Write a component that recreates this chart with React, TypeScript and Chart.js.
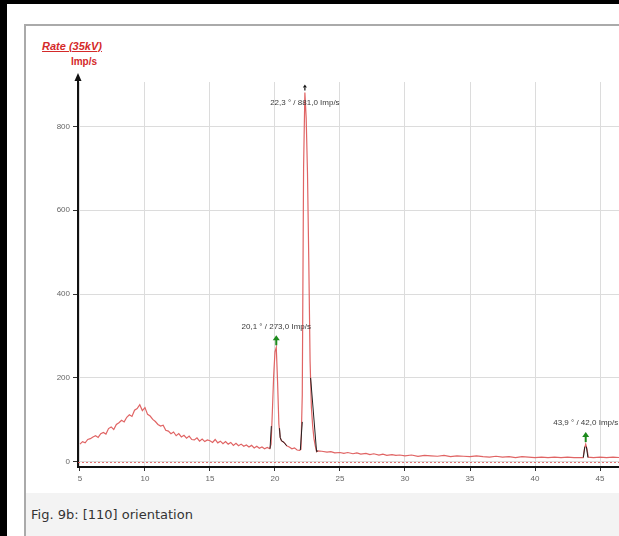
import React, { useEffect, useRef } from "react";
import { Chart, registerables } from "chart.js";

Chart.register(...registerables);

// Measured spectrum (red)
const angles = [
  5.0, 5.2, 5.4, 5.6, 5.8, 6.0, 6.2, 6.4, 6.6, 6.8, 7.0, 7.2, 7.4, 7.6, 7.8, 8.0, 8.2, 8.4, 8.6, 8.8,
  9.0, 9.2, 9.4, 9.6, 9.8, 10.0, 10.2, 10.4, 10.6, 10.8, 11.0, 11.2, 11.4, 11.6, 11.8, 12.0, 12.2, 12.4, 12.6, 12.8,
  13.0, 13.2, 13.4, 13.6, 13.8, 14.0, 14.2, 14.4, 14.6, 14.8, 15.0, 15.2, 15.4, 15.6, 15.8, 16.0, 16.2, 16.4, 16.6, 16.8,
  17.0, 17.2, 17.4, 17.6, 17.8, 18.0, 18.2, 18.4, 18.6, 18.8, 19.0, 19.2, 19.4, 19.6, 19.7, 19.8, 19.9, 20.0, 20.1, 20.2,
  20.3, 20.4, 20.5, 20.7, 20.9, 21.1, 21.3, 21.5, 21.7, 21.9, 22.0, 22.1, 22.2, 22.3, 22.4, 22.5, 22.6, 22.7, 22.8, 22.9,
  23.0, 23.1, 23.2, 23.3, 23.6, 24.0, 24.3, 24.6, 25.0, 25.3, 25.6, 26.0, 26.3, 26.6, 27.0, 27.3, 27.6, 28.0, 28.3, 28.6,
  29.0, 29.3, 29.6, 30.0, 30.5, 31.0, 31.5, 32.0, 32.5, 33.0, 33.5, 34.0, 34.5, 35.0, 35.5, 36.0, 36.5, 37.0, 37.5, 38.0,
  38.5, 39.0, 39.5, 40.0, 40.5, 41.0, 41.5, 42.0, 42.5, 43.0, 43.5, 43.7, 43.8, 43.9, 44.0, 44.1, 44.5, 45.0, 45.5, 46.0,
  46.5,
];
const rates = [
  42, 48, 45, 53, 55, 59, 62, 58, 67, 70, 66, 79, 83, 77, 89, 93, 99, 95, 106, 112,
  108, 123, 127, 136, 122, 129, 113, 109, 101, 96, 89, 85, 87, 75, 73, 67, 71, 62, 67, 59,
  63, 56, 61, 53, 52, 57, 49, 54, 48, 52, 50, 46, 53, 45, 49, 43, 48, 42, 46, 39,
  44, 38, 42, 37, 40, 35, 39, 33, 37, 32, 35, 31, 34, 31, 42, 120, 205, 262, 273, 190,
  90, 58, 50, 46, 38, 35, 31, 33, 28, 27, 30, 160, 700, 881, 820, 690, 480, 240, 130, 85,
  55, 38, 24, 26, 25, 23, 24, 21, 22, 20, 22, 19, 21, 18, 20, 17, 19, 16, 18, 15,
  17, 15, 16, 14, 16, 13, 15, 14, 13, 15, 12, 14, 13, 12, 14, 12, 11, 13, 11, 12,
  10, 12, 11, 10, 11, 10, 11, 10, 11, 10, 10, 10, 30, 42, 30, 11, 10, 11, 10, 11,
  10,
];

// Raw trace segments drawn in black near the peaks (null = gap)
const rawAngles = [19.62, 19.72, 19.73, 20.35, 20.4, 20.5, 20.7, 20.9, 20.91, 21.95, 22.1, 22.11, 22.74, 23.2, 23.3, 23.31, 43.72, 43.83, 43.84, 43.95, 44.07];
const rawRates = [31, 85, null, 80, 58, 50, 46, 38, null, 28, 95, null, 200, 24, 26, null, 10, 36, null, 36, 10];

// Peak markers
const peakAngles = [20.1, 22.3, 43.9];
const peakRates = [273, 881, 42];
const peakColors = ["#1c8a1c", "#111111", "#1c8a1c"];

const xTicks = [5, 10, 15, 20, 25, 30, 35, 40, 45];
const yTicks = [0, 200, 400, 600, 800];

const fmt = (v: number) => v.toFixed(1).replace(".", ",");

const overlayPlugin = {
  id: "overlay",
  beforeDatasetsDraw(chart: any) {
    const { ctx, chartArea, scales } = chart;
    const y0 = scales.y.getPixelForValue(0);
    ctx.save();
    ctx.strokeStyle = "rgba(220,80,80,0.8)";
    ctx.lineWidth = 1;
    ctx.setLineDash([2, 2]);
    ctx.beginPath();
    ctx.moveTo(chartArea.left, Math.round(y0) + 0.5);
    ctx.lineTo(chartArea.right, Math.round(y0) + 0.5);
    ctx.stroke();
    ctx.restore();
  },
  afterDraw(chart: any) {
    const { ctx, chartArea, scales } = chart;
    ctx.save();
    // y-axis arrow
    const ax = chartArea.left;
    ctx.strokeStyle = "#111";
    ctx.fillStyle = "#111";
    ctx.lineWidth = 2;
    ctx.beginPath();
    ctx.moveTo(ax, chartArea.top + 1);
    ctx.lineTo(ax, chartArea.top - 2);
    ctx.stroke();
    ctx.beginPath();
    ctx.moveTo(ax, chartArea.top - 9);
    ctx.lineTo(ax - 3.5, chartArea.top - 1);
    ctx.lineTo(ax + 3.5, chartArea.top - 1);
    ctx.closePath();
    ctx.fill();

    // peak markers
    ctx.font = "8px 'Liberation Sans', Arial, sans-serif";
    ctx.textAlign = "center";
    ctx.textBaseline = "middle";
    peakAngles.forEach((a, i) => {
      const px = scales.x.getPixelForValue(a);
      const py = scales.y.getPixelForValue(peakRates[i]);
      const col = peakColors[i];
      const big = peakRates[i] < 600;
      ctx.strokeStyle = col;
      ctx.fillStyle = col;
      ctx.lineWidth = big ? 2 : 1.2;
      const tip = py - (big ? 12 : 8);
      ctx.beginPath();
      ctx.moveTo(px, py - 2);
      ctx.lineTo(px, tip + 3);
      ctx.stroke();
      const hw = big ? 3.5 : 2;
      ctx.beginPath();
      ctx.moveTo(px, tip);
      ctx.lineTo(px - hw, tip + (big ? 5 : 3));
      ctx.lineTo(px + hw, tip + (big ? 5 : 3));
      ctx.closePath();
      ctx.fill();
      const ly = Math.max(py - 21, chartArea.top + 21);
      ctx.fillStyle = "#3a3a3a";
      ctx.fillText(`${fmt(a)} ° / ${fmt(peakRates[i])} Imp/s`, px, ly);
    });
    ctx.restore();
  },
};

export default function App() {
  const ref = useRef<HTMLCanvasElement>(null);

  useEffect(() => {
    if (!ref.current) return;
    const chart = new Chart(ref.current, {
      type: "line",
      data: {
        datasets: [
          {
            data: rawAngles.map((a, i) => ({ x: a, y: rawRates[i] })) as any,
            borderColor: "#202020",
            borderWidth: 1,
            pointRadius: 0,
            spanGaps: false,
            tension: 0,
            order: 0,
          },
          {
            data: angles.map((a, i) => ({ x: a, y: rates[i] })),
            borderColor: "#e06464",
            borderWidth: 1.2,
            pointRadius: 0,
            tension: 0,
            order: 1,
          },
        ],
      },
      plugins: [overlayPlugin],
      options: {
        animation: false,
        responsive: false,
        maintainAspectRatio: false,
        layout: { padding: { top: 56, right: 0, left: 0, bottom: 0 } },
        plugins: { legend: { display: false }, tooltip: { enabled: false } },
        scales: {
          x: {
            type: "linear",
            min: 4.85,
            max: 46.46,
            afterBuildTicks: (s: any) => {
              s.ticks = xTicks.map((v) => ({ value: v }));
            },
            afterFit: (s: any) => {
              s.height = 26;
            },
            grid: { color: "#dcdcdc", lineWidth: 1, tickLength: 4, tickColor: "#333" },
            border: { color: "#111", width: 2 },
            ticks: {
              color: "#666",
              font: { size: 8, family: "'Liberation Sans', Arial, sans-serif" },
              padding: 3,
              maxRotation: 0,
            },
          },
          y: {
            type: "linear",
            min: -12.6,
            max: 906,
            afterBuildTicks: (s: any) => {
              s.ticks = yTicks.map((v) => ({ value: v }));
            },
            afterFit: (s: any) => {
              s.width = 52;
            },
            grid: { color: "#dcdcdc", lineWidth: 1, tickLength: 5, tickColor: "#333" },
            border: { color: "#111", width: 2 },
            ticks: {
              color: "#666",
              font: { size: 8, family: "'Liberation Sans', Arial, sans-serif" },
              padding: 3,
            },
          },
        },
      },
    });
    return () => chart.destroy();
  }, []);

  return (
    <div
      style={{
        position: "fixed",
        left: 0,
        top: 0,
        width: 619,
        height: 536,
        background: "#fff",
        overflow: "hidden",
        fontFamily: "'DejaVu Sans', sans-serif",
      }}
    >
      <div style={{ position: "absolute", left: 0, top: 0, width: 619, height: 4, background: "#000" }} />
      <div style={{ position: "absolute", left: 0, top: 0, width: 7, height: 536, background: "#000" }} />
      <div style={{ position: "absolute", left: 24, top: 24, width: 595, height: 2, background: "#aaa" }} />
      <div style={{ position: "absolute", left: 24, top: 24, width: 2, height: 512, background: "#aaa" }} />
      <div
        style={{
          position: "absolute",
          left: 26,
          top: 40,
          width: 92,
          textAlign: "center",
          color: "#d42a2a",
          fontFamily: "'Liberation Sans', Arial, sans-serif",
          fontStyle: "italic",
          fontWeight: "bold",
          fontSize: 11,
          lineHeight: "13px",
          textDecoration: "underline",
        }}
      >
        Rate (35kV)
      </div>
      <div
        style={{
          position: "absolute",
          left: 50,
          top: 56,
          width: 68,
          textAlign: "center",
          color: "#d42a2a",
          fontFamily: "'Liberation Sans', Arial, sans-serif",
          fontWeight: "bold",
          fontSize: 10,
          lineHeight: "12px",
        }}
      >
        Imp/s
      </div>
      <canvas
        ref={ref}
        width={593}
        height={467}
        style={{ position: "absolute", left: 26, top: 26, width: 593, height: 467 }}
      />
      <div
        style={{
          position: "absolute",
          left: 26,
          top: 493,
          width: 593,
          height: 43,
          background: "#f3f3f3",
        }}
      />
      <div
        style={{
          position: "absolute",
          left: 31,
          top: 506,
          fontSize: 13,
          lineHeight: "18px",
          color: "#333",
          fontFamily: "'DejaVu Sans', sans-serif",
          whiteSpace: "nowrap",
        }}
      >
        Fig. 9b: [110] orientation
      </div>
    </div>
  );
}
